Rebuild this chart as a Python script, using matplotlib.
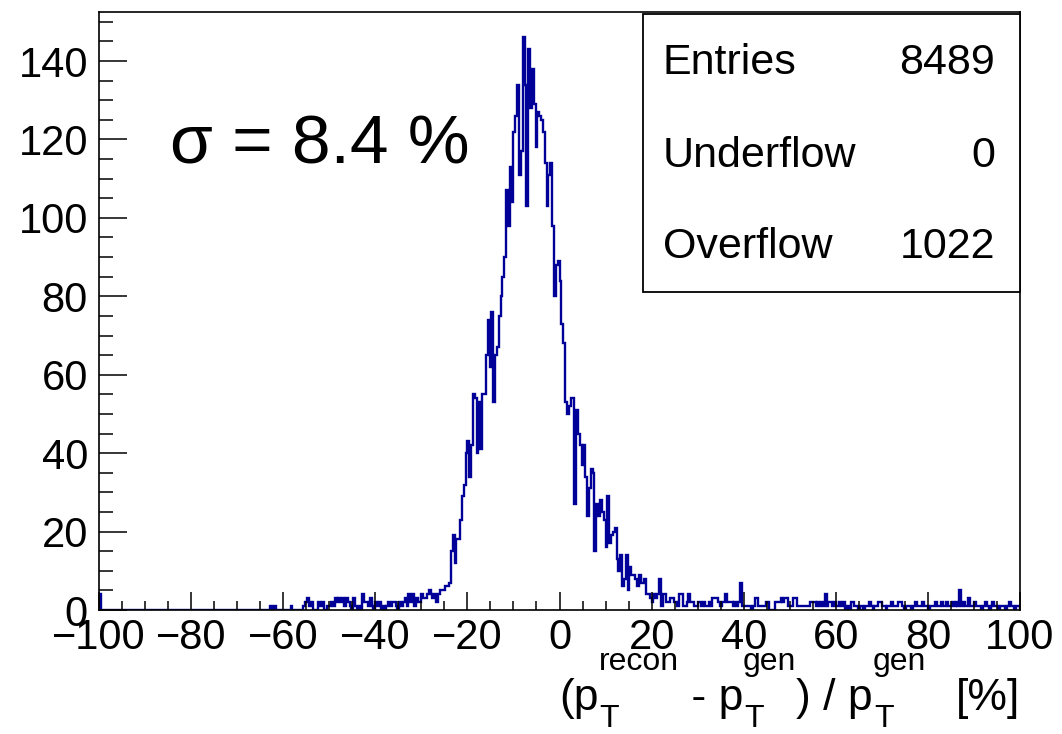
import numpy as np
import matplotlib
matplotlib.use('Agg')
import matplotlib.pyplot as plt
from matplotlib.ticker import MultipleLocator, FixedLocator

# ---- data (500 bins, width 0.4, range -100..100) ----
counts_left = [  # bins 0..179
    4,0,0,0,0,0,0,0,0,0,0,0,0,0,0,0,0,0,0,0,
    0,0,0,0,0,0,0,0,0,0,0,0,0,0,0,0,0,0,0,0,
    0,0,0,0,0,0,0,0,0,0,0,0,0,0,0,0,0,0,0,0,
    0,0,0,0,0,0,0,0,0,0,0,0,0,0,0,0,0,0,0,0,
    0,0,0,0,0,0,0,0,0,0,0,0,0,1,0,1,0,0,0,0,
    0,0,0,0,1,0,0,0,0,0,0,1,2,3,1,2,0,0,0,2,
    1,2,0,0,1,1,2,1,3,2,3,2,3,1,3,2,1,0,3,1,
    0,1,0,4,2,2,1,3,1,0,2,1,2,0,1,0,1,2,1,2,
    2,1,0,2,1,2,3,1,4,2,4,1,3,2,2,4,3,3,4,5,
]
counts_core = [  # bins 180..289
    4,3,4,2,4,5,5,5,6,6,7,15,19,12,18,18,23,29,32,40,
    43,34,42,55,54,40,53,41,55,55,65,74,62,76,53,65,67,75,80,85,
    90,107,98,113,104,122,126,134,111,117,146,134,103,143,128,138,129,118,127,126,
    125,122,114,103,111,114,98,80,88,89,84,73,68,53,50,52,54,54,27,51,
    45,42,37,42,34,24,31,36,35,15,27,24,28,25,23,16,29,17,19,20,
    21,13,10,14,6,8,14,5,11,9,
]
counts_right = [  # bins 290..499
    9,8,6,9,7,7,8,4,4,3,2,4,3,4,8,1,4,4,2,2,
    3,3,2,2,1,4,4,1,1,2,4,2,2,1,1,2,2,1,2,1,
    1,2,1,3,3,3,2,1,2,2,4,2,2,2,1,2,1,2,7,1,
    1,1,1,1,0,1,3,3,1,1,1,1,2,2,0,0,0,2,2,2,
    3,2,3,3,1,1,1,3,3,1,1,1,1,1,1,1,2,2,2,1,
    2,1,2,1,4,1,2,2,1,2,1,1,2,1,2,0,1,0,2,2,
    1,1,0,1,1,0,1,1,2,1,0,1,1,2,2,1,1,0,1,1,
    2,1,1,1,2,2,1,0,1,1,1,0,1,2,1,1,1,2,1,1,
    0,1,1,1,2,1,1,2,1,1,2,1,1,2,1,2,1,5,1,2,
    1,1,3,1,1,2,1,1,1,0,1,2,1,0,1,2,1,1,0,1,
    1,1,0,1,2,1,1,0,1,1,
]
x_min, x_max = -100.0, 100.0
stat_labels = ["Entries", "Underflow", "Overflow"]
stat_values = ["8489", "0", "1022"]
sigma_text = "\u03c3 = 8.4 %"
x_ticks = [-100, -80, -60, -40, -20, 0, 20, 40, 60, 80, 100]
y_ticks = [0, 20, 40, 60, 80, 100, 120, 140]
# axis title pieces: (main text, superscript, subscript)
title_pieces = [("(p", "recon", "T"), (" - p", "gen", "T"), (") / p", "gen", "T")]
title_tail = "[%]"

counts = np.array(counts_left + counts_core + counts_right, dtype=float)
edges = np.linspace(x_min, x_max, len(counts) + 1)

# ---- style ----
plt.rcParams['font.family'] = ['Liberation Sans', 'DejaVu Sans']

W, H = 1062, 734
fig = plt.figure(figsize=(W / 100, H / 100), dpi=100)
L, R, T, B = 99, 1020, 12, 610
ax = fig.add_axes([L / W, 1 - B / H, (R - L) / W, (B - T) / H])

ax.stairs(counts, edges, color='#000099', linewidth=1.7, baseline=0)

ax.set_xlim(x_min, x_max)
ax.set_ylim(0, 152.5)

ax.xaxis.set_major_locator(FixedLocator(x_ticks))
ax.xaxis.set_minor_locator(MultipleLocator(5))
ax.yaxis.set_major_locator(FixedLocator(y_ticks))
ax.yaxis.set_minor_locator(MultipleLocator(5))
ax.set_xticklabels([str(t).replace('-', '\u2212') for t in x_ticks])
ax.set_yticklabels([str(t) for t in y_ticks])

ax.tick_params(axis='x', which='major', direction='in', length=13, width=1.1,
               labelsize=30, pad=6, top=False)
ax.tick_params(axis='x', which='minor', direction='in', length=6.5, width=1.1, top=False)
ax.tick_params(axis='y', which='major', direction='in', length=20, width=1.1,
               labelsize=30, pad=8, right=False)
ax.tick_params(axis='y', which='minor', direction='in', length=10, width=1.1, right=False)
for sp in ax.spines.values():
    sp.set_linewidth(1.2)
    sp.set_color('black')

# x axis title, laid out piece by piece (ROOT TLatex style)
renderer = fig.canvas.get_renderer()
main_fs, scr_fs = 32, 23
base_y, sup_y, sub_y = 710, 670, 727

def put(px, py, s, size, ha='left'):
    t = fig.text(px / W, 1 - py / H, s, ha=ha, va='baseline', fontsize=size)
    return t.get_window_extent(renderer).width

cursor = 559.0
for main, sup, sub in title_pieces:
    cursor += put(cursor, base_y, main, main_fs)
    w1 = put(cursor, sup_y, sup, scr_fs)
    w2 = put(cursor + 1, sub_y, sub, scr_fs)
    cursor += max(w1, w2)
put(R, base_y, title_tail, main_fs, ha='right')

# sigma annotation
fig.text(170 / W, 1 - 146 / H, sigma_text, ha='left', va='center', fontsize=50)

# stat box
bx0, by0, bx1, by1 = 643, 14, 1020, 292
box = plt.Rectangle((bx0 / W, 1 - by1 / H), (bx1 - bx0) / W, (by1 - by0) / H,
                    transform=fig.transFigure, fill=True, facecolor='white',
                    edgecolor='black', linewidth=1.3, zorder=5)
fig.add_artist(box)
rows_y = [63, 156, 247]
for lab, val, yy in zip(stat_labels, stat_values, rows_y):
    fig.text(663 / W, 1 - yy / H, lab, ha='left', va='center', fontsize=31, zorder=6)
    fig.text(995 / W, 1 - yy / H, val, ha='right', va='center', fontsize=31, zorder=6)

fig.savefig('out.png', dpi=100)
